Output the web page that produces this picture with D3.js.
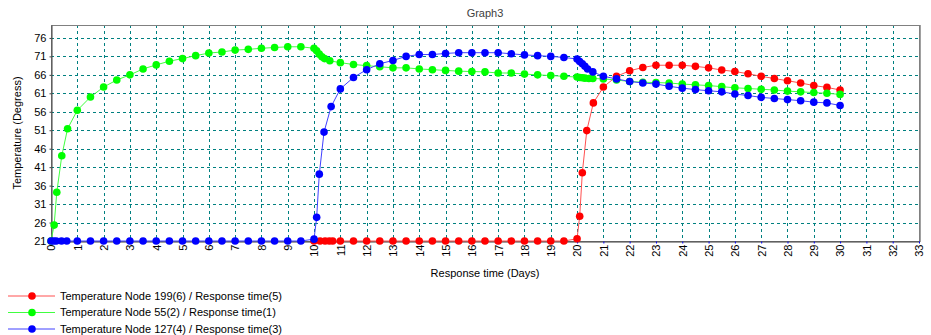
<!DOCTYPE html>
<html>
<head>
<meta charset="UTF-8">
<title>Graph3</title>
<style>
  body { margin: 0; background: #fff; }
  text { font-family: "Liberation Sans", Arial, sans-serif; }
</style>
</head>
<body>
<div id="graph"></div>
<script src="https://d3js.org/d3.v7.min.js"></script>
<script>
// data
var xTicks = d3.range(0, 34);
var yTicks = [21, 26, 31, 36, 41, 46, 51, 56, 61, 66, 71, 76];

var redDays = [10, 10.23, 10.42, 10.58, 10.71, 11, 11.5, 12, 12.5, 13, 13.5, 14, 14.5, 15, 15.5, 16, 16.5, 17, 17.5, 18, 18.5, 19, 19.5,
  20, 20.1, 20.2, 20.37, 20.62, 21, 21.5, 22, 22.5, 23, 23.5, 24, 24.5, 25, 25.5, 26, 26.5, 27, 27.5, 28, 28.5, 29, 29.5, 30];
var redTemp = [21, 21, 21, 21, 21, 21, 21, 21, 21, 21, 21, 21, 21, 21, 21, 21, 21, 21, 21, 21, 21, 21, 21,
  21.6, 27.7, 39.5, 50.9, 58.4, 62.7, 65.6, 67.1, 68.0, 68.6, 68.6, 68.6, 68.3, 67.9, 67.3, 66.9, 66.3, 65.6, 65.0, 64.4, 63.8, 63.1, 62.6, 61.9];

var greenDays = [0, 0.12, 0.22, 0.41, 0.63, 1, 1.5, 2, 2.5, 3, 3.5, 4, 4.5, 5, 5.5, 6, 6.5, 7, 7.5, 8, 8.5, 9, 9.5,
  10, 10.1, 10.2, 10.3, 10.4, 10.6, 11, 11.5, 12, 12.5, 13, 13.5, 14, 14.5, 15, 15.5, 16, 16.5, 17, 17.5, 18, 18.5, 19, 19.5,
  20, 20.1, 20.2, 20.3, 20.45, 20.6, 21, 21.5, 22, 22.5, 23, 23.5, 24, 24.5, 25, 25.5, 26, 26.5, 27, 27.5, 28, 28.5, 29, 29.5, 30];
var greenTemp = [21, 25.3, 34.2, 44.1, 51.4, 56.4, 60.0, 62.7, 64.6, 66.0, 67.6, 68.7, 69.7, 70.4, 71.2, 71.9, 72.2, 72.7, 72.9, 73.2, 73.4, 73.6, 73.6,
  73.2, 72.5, 71.6, 70.9, 70.4, 69.8, 69.3, 68.8, 68.5, 68.2, 67.9, 67.9, 67.6, 67.4, 67.2, 67.0, 66.9, 66.8, 66.5, 66.5, 66.2, 66.0, 65.8, 65.6,
  65.4, 65.3, 65.2, 65.1, 65.0, 65.0, 64.9, 64.6, 64.2, 64.0, 63.9, 63.8, 63.5, 63.3, 63.1, 62.8, 62.5, 62.3, 62.1, 61.9, 61.6, 61.4, 61.2, 61.0, 60.7];

var blueDays = [0, 0.1, 0.2, 0.4, 0.6, 1, 1.5, 2, 2.5, 3, 3.5, 4, 4.5, 5, 5.5, 6, 6.5, 7, 7.5, 8, 8.5, 9, 9.5,
  10, 10.1, 10.2, 10.38, 10.65, 11, 11.5, 12, 12.5, 13, 13.5, 14, 14.5, 15, 15.5, 16, 16.5, 17, 17.5, 18, 18.5, 19, 19.5,
  20, 20.1, 20.2, 20.3, 20.4, 20.6, 21, 21.5, 22, 22.5, 23, 23.5, 24, 24.5, 25, 25.5, 26, 26.5, 27, 27.5, 28, 28.5, 29, 29.5, 30];
var blueTemp = [21, 21, 21, 21, 21, 21, 21, 21, 21, 21, 21, 21, 21, 21, 21, 21, 21, 21, 21, 21, 21, 21, 21,
  21.5, 27.4, 39.1, 50.5, 57.4, 62.2, 65.3, 67.4, 69.0, 69.9, 71.0, 71.5, 71.5, 71.8, 72.0, 72.0, 72.0, 72.0, 71.7, 71.4, 71.2, 71.0, 70.7,
  70.3, 69.6, 69.0, 68.3, 67.6, 66.8, 65.6, 64.9, 64.2, 63.8, 63.5, 62.9, 62.4, 62.0, 61.7, 61.4, 60.8, 60.4, 59.9, 59.6, 59.3, 59.0, 58.6, 58.4, 57.7];

var seriesNames = [
  "Temperature Node 199(6) / Response time(5)",
  "Temperature Node 55(2) / Response time(1)",
  "Temperature Node 127(4) / Response time(3)"
];
var seriesColors = ["#ff0000", "#00ff00", "#0000ff"];
var lineColors = ["#ff5050", "#40ff40", "#4040ff"];

var series = [
  { name: seriesNames[0], days: redDays, temp: redTemp },
  { name: seriesNames[1], days: greenDays, temp: greenTemp },
  { name: seriesNames[2], days: blueDays, temp: blueTemp }
];

var width = 931, height = 335;
var plotL = 51, plotR = 919, plotT = 25, plotB = 241;

var x = d3.scaleLinear().domain([0, 33]).range([plotL, plotR]);
var y = d3.scaleLinear().domain([21, 79.5]).range([plotB, plotT]);

var svg = d3.select("#graph").append("svg")
  .attr("width", width)
  .attr("height", height);

// plot background
svg.append("rect")
  .attr("x", plotL).attr("y", plotT)
  .attr("width", plotR - plotL).attr("height", plotB - plotT)
  .attr("fill", "#fff");

// grid
var grid = svg.append("g").attr("class", "grid");
grid.selectAll("line.v")
  .data(xTicks.filter(function (d) { return d > 0 && d < 33; }))
  .enter().append("line")
  .attr("x1", function (d) { return Math.round(x(d)) + 0.5; })
  .attr("x2", function (d) { return Math.round(x(d)) + 0.5; })
  .attr("y1", plotT).attr("y2", plotB)
  .attr("stroke", "#008080")
  .attr("stroke-dasharray", "3,3");
grid.selectAll("line.h")
  .data(yTicks.filter(function (d) { return d > 21; }))
  .enter().append("line")
  .attr("y1", function (d) { return Math.round(y(d)) + 0.5; })
  .attr("y2", function (d) { return Math.round(y(d)) + 0.5; })
  .attr("x1", plotL).attr("x2", plotR)
  .attr("stroke", "#008080")
  .attr("stroke-dasharray", "3,3");

// frame
svg.append("rect")
  .attr("x", plotL + 0.5).attr("y", plotT + 0.5)
  .attr("width", plotR - plotL).attr("height", plotB - plotT)
  .attr("fill", "none")
  .attr("stroke", "#808080");
svg.append("line")
  .attr("x1", plotR + 1.5).attr("x2", plotR + 1.5)
  .attr("y1", plotT).attr("y2", plotB + 1)
  .attr("stroke", "#a0a0a0");

// axes
var xAxis = svg.append("g")
  .attr("transform", "translate(0," + (plotB + 0.5) + ")")
  .call(d3.axisBottom(x).tickValues(xTicks).tickSize(2).tickSizeOuter(0).tickFormat(d3.format("d")));
xAxis.select(".domain").attr("stroke", "#404040");
xAxis.selectAll(".tick line").attr("stroke", "#0000ff");
xAxis.selectAll(".tick text")
  .attr("transform", "rotate(-90)")
  .attr("x", -3).attr("y", 0).attr("dy", "0.35em")
  .attr("text-anchor", "end")
  .attr("font-size", 11)
  .attr("font-family", "Liberation Sans, Arial, sans-serif")
  .attr("fill", "#000");

var yAxis = svg.append("g")
  .attr("transform", "translate(" + (plotL + 0.5) + ",0)")
  .call(d3.axisLeft(y).tickValues(yTicks).tickSize(2).tickSizeOuter(0));
yAxis.select(".domain").attr("stroke", "#404040");
yAxis.selectAll(".tick line").attr("stroke", "#404040");
yAxis.selectAll(".tick text")
  .attr("x", -5)
  .attr("font-size", 11)
  .attr("font-family", "Liberation Sans, Arial, sans-serif")
  .attr("fill", "#000");

// title and axis labels
svg.append("text")
  .attr("x", (plotL + plotR) / 2).attr("y", 17)
  .attr("text-anchor", "middle")
  .attr("font-size", 11)
  .attr("fill", "#404040")
  .text("Graph3");

svg.append("text")
  .attr("transform", "translate(21," + ((plotT + plotB) / 2) + ") rotate(-90)")
  .attr("text-anchor", "middle")
  .attr("font-size", 11)
  .text("Temperature (Degress)");

svg.append("text")
  .attr("x", (plotL + plotR) / 2).attr("y", 277)
  .attr("text-anchor", "middle")
  .attr("font-size", 11)
  .text("Response time (Days)");

// series
var line = d3.line()
  .x(function (d) { return x(d[0]); })
  .y(function (d) { return y(d[1]); });

series.forEach(function (s, i) {
  var pts = d3.zip(s.days, s.temp);
  var g = svg.append("g");
  g.append("path")
    .datum(pts)
    .attr("d", line)
    .attr("fill", "none")
    .attr("stroke", lineColors[i])
    .attr("stroke-width", 1);
  g.selectAll("circle")
    .data(pts)
    .enter().append("circle")
    .attr("cx", function (d) { return x(d[0]); })
    .attr("cy", function (d) { return y(d[1]); })
    .attr("r", 3.8)
    .attr("fill", seriesColors[i]);
});

// legend
var legend = svg.append("g");
var rows = legend.selectAll("g")
  .data(series)
  .enter().append("g")
  .attr("transform", function (d, i) { return "translate(0," + (296 + i * 16.5) + ")"; });
rows.append("line")
  .attr("x1", 8).attr("x2", 55)
  .attr("stroke", function (d, i) { return lineColors[i]; });
rows.append("circle")
  .attr("cx", 32).attr("r", 3.8)
  .attr("fill", function (d, i) { return seriesColors[i]; });
rows.append("text")
  .attr("x", 60).attr("dy", "0.35em")
  .attr("font-size", 11)
  .text(function (d) { return d.name; });
</script>
</body>
</html>
